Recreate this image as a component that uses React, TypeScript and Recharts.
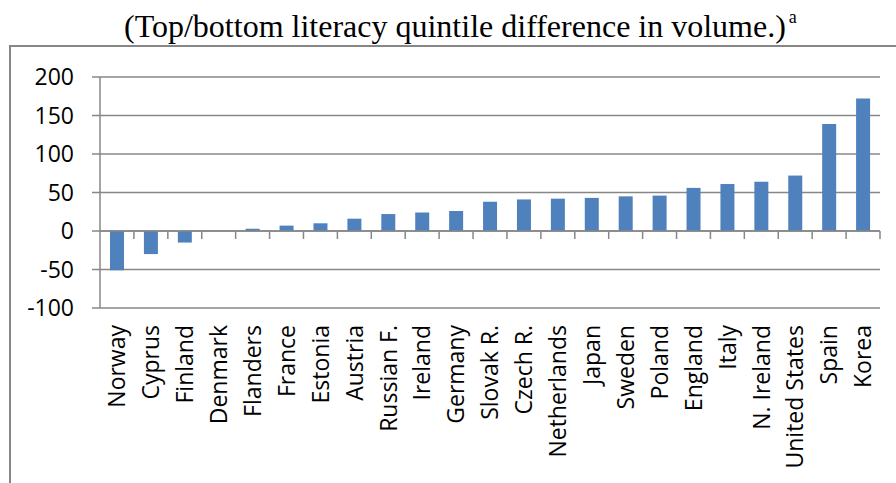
import { BarChart, Bar, XAxis, YAxis, CartesianGrid, ReferenceLine } from "recharts";

const countries = [
    "Norway", "Cyprus", "Finland", "Denmark", "Flanders", "France", "Estonia", "Austria",
    "Russian F.", "Ireland", "Germany", "Slovak R.", "Czech R.", "Netherlands", "Japan",
    "Sweden", "Poland", "England", "Italy", "N. Ireland", "United States", "Spain", "Korea",
];
const volumeDiff = [
    -51, -30, -15, 0, 3, 7, 10, 16, 22, 24, 26, 38, 41, 42, 43, 45, 46, 56, 61, 64, 72, 139, 172,
];
const yTicks = [-100, -50, 0, 50, 100, 150, 200];

const chartData = countries.map((country, i) => ({ country, value: volumeDiff[i] }));

const GRID = "#878787";
const LABEL_FONT = "'Open Sans', sans-serif";

// rotated country label under the plot
function CountryTick({ x, y, payload }: any) {
    return (
        <text x={x} y={y} dy="0.36em" transform={`rotate(-90, ${x}, ${y})`}
            textAnchor="end" fontSize={23} fontFamily={LABEL_FONT} fill="#000">
            {payload.value}
        </text>
    );
}

// zero line with the small category tick marks hanging under it
function ZeroLine({ x1, y1, x2 }: any) {
    const step = (x2 - x1) / countries.length;
    return (
        <g>
            <line x1={x1} y1={y1} x2={x2} y2={y1} stroke={GRID} strokeWidth={1.5} />
            {countries.map((_, k) => (
                <line key={k} x1={x1 + step * (k + 1)} y1={y1} x2={x1 + step * (k + 1)} y2={y1 + 8}
                    stroke={GRID} strokeWidth={1.5} />
            ))}
        </g>
    );
}

function App() {
    return (
        <div style={{ position: "absolute", left: 0, top: 0, width: 896, height: 483, background: "#fff", overflow: "hidden" }}>
            <div style={{
                position: "absolute", left: 124, top: 10, whiteSpace: "nowrap",
                fontFamily: "'Liberation Serif', serif", fontSize: 32, color: "#000", lineHeight: "32px",
            }}>
                (Top/bottom literacy quintile difference in volume.)
                <span style={{ fontSize: 18, position: "relative", top: -14, marginLeft: 3, lineHeight: 0 }}>a</span>
            </div>
            <div style={{
                position: "absolute", left: 9, top: 45, width: 900, height: 460,
                borderTop: `2px solid ${GRID}`, borderLeft: `2px solid ${GRID}`,
            }} />
            <div style={{ position: "absolute", left: 0, top: 0 }}>
                <BarChart width={896} height={483} data={chartData}
                    margin={{ top: 77, right: 16, bottom: 0, left: 0 }}>
                    <CartesianGrid vertical={false} stroke={GRID} strokeWidth={1.5} />
                    <XAxis dataKey="country"
                        height={175}
                        axisLine={false}
                        tickLine={false}
                        tickSize={0}
                        tickMargin={17}
                        interval={0}
                        tick={<CountryTick />} />
                    <YAxis domain={[-100, 200]}
                        ticks={yTicks}
                        width={100}
                        axisLine={{ stroke: GRID, strokeWidth: 1.5 }}
                        tickLine={{ stroke: GRID, strokeWidth: 1.5 }}
                        tickSize={8}
                        tickMargin={18}
                        tick={{ fontSize: 23, fontFamily: LABEL_FONT, fill: "#000" }} />
                    <ReferenceLine y={0} shape={<ZeroLine />} />
                    <Bar dataKey="value" fill="#4f81bd" barSize={14} isAnimationActive={false} />
                </BarChart>
            </div>
        </div>
    );
}

export default App;
